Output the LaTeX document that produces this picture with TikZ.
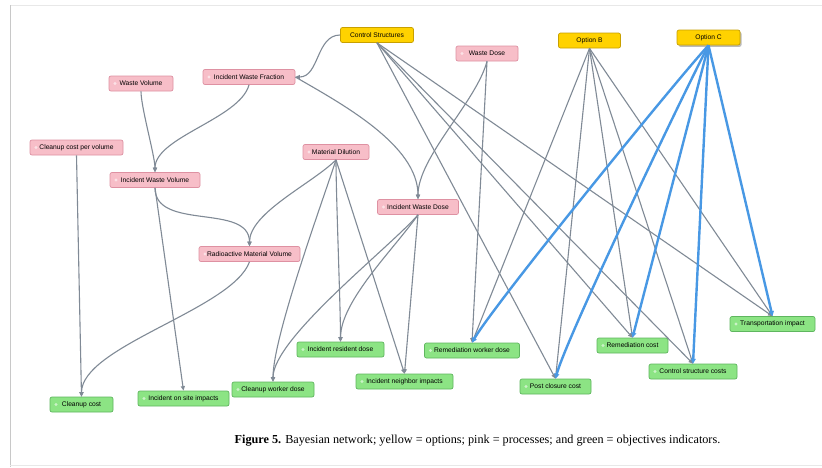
\documentclass[tikz,border=0pt]{standalone}
\usepackage{fontspec}
\setmainfont{Liberation Serif}
\setsansfont{Liberation Sans}
\usetikzlibrary{arrows.meta,shadows}
\definecolor{pinkF}{RGB}{247,190,200}
\definecolor{pinkD}{RGB}{222,145,162}
\definecolor{greenF}{RGB}{140,228,132}
\definecolor{greenD}{RGB}{95,182,95}
\definecolor{yelF}{RGB}{255,210,0}
\definecolor{yelD}{RGB}{200,160,0}
\definecolor{edgeG}{RGB}{128,138,150}
\definecolor{blueE}{RGB}{72,152,228}
\definecolor{frameL}{RGB}{200,200,200}
\definecolor{frameT}{RGB}{232,232,232}
\tikzset{
  box/.style={draw, rounded corners=2pt, minimum height=15pt, inner sep=1pt,
    font=\sffamily\fontsize{6.7}{8}\selectfont, line width=0.7pt},
  withdot/.style={path picture={\fill[white,opacity=.55]
    ([xshift=6pt]path picture bounding box.west) circle (1.7pt);}},
  pk/.style={box, withdot, fill=pinkF, draw=pinkD},
  gr/.style={box, withdot, fill=greenF, draw=greenD},
  ye/.style={box, fill=yelF, draw=yelD},
  ed/.style={draw=edgeG, line width=1.1pt, -{Triangle[length=4.5pt,width=4pt]}},
  bl/.style={draw=blueE, line width=2.4pt, -{Triangle[length=5pt,width=5pt]}},
}
\begin{document}
\begin{tikzpicture}[x=1pt,y=1pt]
\useasboundingbox (0,0) rectangle (822,-467);
\fill[white] (0,0) rectangle (822,-467);
% frame
\draw[frameT, line width=1pt] (10,-5) -- (822,-5);
\draw[frameL, line width=1pt] (10,-5) -- (10,-467);
\draw[frameT, line width=1pt] (10,-465.5) -- (822,-465.5);

% options
\node[ye, minimum width=73pt] (cs) at (377,-35) {Control Structures};
\node[ye, minimum width=62pt] (ob) at (589.5,-40.5) {Option B};
\node[ye, minimum width=63pt, drop shadow={shadow xshift=1.5pt, shadow yshift=-1.8pt, opacity=.45, fill=black!60}] (oc) at (708.5,-37.5) {Option C};

% processes
\node[pk, minimum width=64pt] (wv) at (141,-83.5) {Waste Volume};
\node[pk, minimum width=92pt] (iwf) at (249,-77) {Incident Waste Fraction};
\node[pk, minimum width=62pt] (wd) at (487,-53.5) {Waste Dose};
\node[pk, minimum width=93pt] (ccpv) at (76.5,-147.5) {Cleanup cost per volume};
\node[pk, minimum width=66pt] (md) at (336,-152) {Material Dilution};
\node[pk, minimum width=90pt] (iwv) at (155,-180) {Incident Waste Volume};
\node[pk, minimum width=81pt] (iwd) at (418,-207) {Incident Waste Dose};
\node[pk, minimum width=101pt] (rmv) at (249.5,-254) {Radioactive Material Volume};

% objectives
\node[gr, minimum width=63pt] (cc) at (81.5,-404.5) {Cleanup cost};
\node[gr, minimum width=91pt] (iosi) at (183.5,-398.5) {Incident on site impacts};
\node[gr, minimum width=82pt] (cwd) at (273,-389.5) {Cleanup worker dose};
\node[gr, minimum width=87pt] (ird) at (340.5,-349.5) {Incident resident dose};
\node[gr, minimum width=97pt] (ini) at (404.5,-381.5) {Incident neighbor impacts};
\node[gr, minimum width=95pt] (rwd) at (472,-350.5) {Remediation worker dose};
\node[gr, minimum width=71pt] (pcc) at (555.5,-386.5) {Post closure cost};
\node[gr, minimum width=71pt] (rc) at (632.5,-345.5) {Remediation cost};
\node[gr, minimum width=88pt] (csc) at (693,-371.5) {Control structure costs};
\node[gr, minimum width=85pt] (ti) at (772.5,-324) {Transportation impact};

% process edges
\draw[ed] (cs.west) to[out=180,in=0] (iwf.east);
\draw[ed] (iwf.east) to[out=-30,in=90,looseness=.8] (iwd.north);
\draw[ed] (wd.south) to[out=-105,in=90,looseness=.7] (iwd.north);
\draw[ed] (wv.south) to[out=-90,in=90,looseness=.5] (iwv.north);
\draw[ed] (iwf.south) to[out=-105,in=90,looseness=.7] (iwv.north);
\draw[ed] (iwv.south) to[out=-90,in=90] (rmv.north);
\draw[ed] (md.south) to[out=-135,in=90,looseness=.7] (rmv.north);
\draw[ed] (rmv.south) to[out=-110,in=90,looseness=.6] (cc.north);
\draw[ed] (ccpv.south) -- (cc.north);
\draw[ed] (iwv.south) -- (iosi.north);
\draw[ed] (md.south) to[out=-108,in=90,looseness=.5] (cwd.north);
\draw[ed] (md.south) to[out=-90,in=90,looseness=.5] (ird.north);
\draw[ed] (md.south) -- (ini.north);
\draw[ed] (iwd.south) to[out=-131,in=90,looseness=.5] (cwd.north);
\draw[ed] (iwd.south) to[out=-125,in=90,looseness=.7] (ird.north);
\draw[ed] (iwd.south) -- (ini.north);
\draw[ed] (wd.south) -- (rwd.north);

% control structures
\draw[ed] (cs.south) -- (pcc.north);
\draw[ed] (cs.south) -- (rc.north);
\draw[ed] (cs.south) -- (csc.north);
\draw[ed] (cs.south) -- (ti.north);

% option B
\draw[ed] (ob.south) -- (rwd.north);
\draw[ed] (ob.south) -- (pcc.north);
\draw[ed] (ob.south) -- (rc.north);
\draw[ed] (ob.south) -- (csc.north);
\draw[ed] (ob.south) -- (ti.north);

% option C
\draw[bl] (oc.south) to[out=-133,in=60,looseness=.3] (rwd.north);
\draw[bl] (oc.south) to[out=-118,in=75,looseness=.3] (pcc.north);
\draw[bl] (oc.south) -- (rc.north);
\draw[bl] (oc.south) -- (csc.north);
\draw[bl] (oc.south) -- (ti.north);

% caption
\node[font=\fontsize{12.2}{14}\selectfont, inner sep=0pt] (cap) at (477.5,-441)
  {\textbf{Figure 5.} Bayesian network; yellow = options; pink = processes; and green = objectives indicators.};
\end{tikzpicture}
\end{document}
